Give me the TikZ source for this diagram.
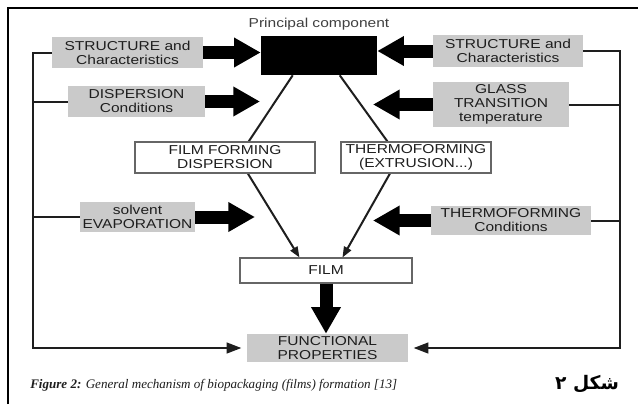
\documentclass[tikz,border=0pt]{standalone}
\usepackage{fontspec}
\setmainfont{Liberation Sans}
\newfontfamily\bx{Liberation Sans}[FakeStretch=1.2]
\newfontfamily\capf{Liberation Serif}
\newfontfamily\arabicfont[Script=Arabic]{DejaVu Sans}
\TeXXeTstate=1
\usetikzlibrary{arrows.meta,calc,backgrounds}
\definecolor{boxgray}{RGB}{202,202,202}
\definecolor{ink}{RGB}{30,30,30}
\tikzset{
  boxtext/.style={font=\bx\fontsize{9.7}{10.5}\selectfont, text=ink, align=center, inner sep=0pt},
  gbox/.style={boxtext, fill=boxgray},
  wbox/.style={boxtext, fill=white, draw=gray!80!black, line width=0.8pt},
  fat/.style={draw=black, line width=9.75pt, -{Triangle[length=20pt,width=21pt]}},
  brk/.style={draw=ink, line width=1.5pt},
  brkarrow/.style={brk, -{Triangle[length=11pt,width=8pt]}, shorten >=4pt},
  diag/.style={draw=ink, line width=1.5pt, -{Triangle[length=8pt,width=6pt]}},
}
\begin{document}
\begin{tikzpicture}[x=0.75pt,y=-0.75pt]
\useasboundingbox (0,0) rectangle (638,404);
\begin{scope}[on background layer]
\fill[white] (0,0) rectangle (638,404);
\end{scope}
% frame
\draw[line width=1.9pt] (8,404) -- (8,8) -- (638,8);

% nodes
\node[boxtext, text=ink!85] (pc) at (319,24) {Principal component};
\node[fill=black, minimum width=87pt, minimum height=29.25pt, inner sep=0pt] (blk) at (319,55.5) {};

\node[gbox, minimum width=113.25pt, minimum height=23.25pt] (sl) at (127.5,52.5) {STRUCTURE and\\Characteristics};
\node[gbox, minimum width=102.75pt, minimum height=23.25pt] (dl) at (136.5,101.5) {DISPERSION\\Conditions};
\node[gbox, minimum width=86.25pt, minimum height=22.5pt] (ev) at (137.5,217) {solvent\\EVAPORATION};

\node[gbox, minimum width=112.5pt, minimum height=24pt] (sr) at (508,51) {STRUCTURE and\\Characteristics};
\node[gbox, minimum width=102pt, minimum height=33.75pt] (gr) at (501,104.5) {GLASS\\TRANSITION\\temperature};
\node[gbox, minimum width=120pt, minimum height=21.75pt] (tc) at (511,220.5) {THERMOFORMING\\Conditions};

\node[wbox, minimum width=135pt, minimum height=23.25pt] (ffd) at (225,157.5) {FILM FORMING\\DISPERSION};
\node[wbox, minimum width=112.5pt, minimum height=23.25pt] (tex) at (416,157.5) {THERMOFORMING\\(EXTRUSION...)};
\node[wbox, minimum width=129pt, minimum height=18.75pt] (film) at (326,270.5) {FILM};
\node[gbox, minimum width=120.75pt, minimum height=21pt] (fp) at (327.5,348) {FUNCTIONAL\\PROPERTIES};

% targets of fat arrows on the diagonals
\coordinate (t2) at (260,101.5);
\coordinate (t4) at (373,104.5);
\coordinate (t5) at (255,217);
\coordinate (t6) at (373,220.5);
\coordinate (lx) at (33,0);
\coordinate (rx) at (620,0);

% fat arrows
\draw[fat] (sl.east) -- (sl.east -| blk.west);
\draw[fat] (dl.east) -- (t2);
\draw[fat] (sr.west) -- (sr.west -| blk.east);
\draw[fat] (gr.west) -- (t4);
\draw[fat] (ev.east) -- (t5);
\draw[fat] (tc.west) -- (t6);
\draw[fat] (film.south) -- (film.south |- fp.north);

% brackets
\draw[brkarrow] (sl.west) -- (sl.west -| lx) |- (fp.west);
\draw[brk] (dl.west) -- (dl.west -| lx);
\draw[brk] (ev.west) -- (ev.west -| lx);
\draw[brkarrow] (sr.east) -- (sr.east -| rx) |- (fp.east);
\draw[brk] (gr.east) -- (gr.east -| rx);
\draw[brk] (tc.east) -- (tc.east -| rx);

% diagonals behind boxes
\begin{scope}[on background layer]
\draw[diag] ($(blk.south west)+(32,0)$) -- ($(ffd.center)+(13,0)$) -- ($(film.north west)+(60,0)$);
\draw[diag] ($(blk.south west)+(79,0)$) -- ($(tex.center)+(-17,0)$) -- ($(film.north west)+(103,0)$);
\end{scope}

% caption
\node[anchor=west, inner sep=0pt, text=ink, font=\capf\itshape\fontsize{9.8}{11}\selectfont] (cap) at (30,385)
  {\textbf{Figure 2:} General mechanism of biopackaging (films) formation [13]};
\node[inner sep=0pt, font=\arabicfont\bfseries\fontsize{14}{17}\selectfont] (fig) at (587,384) {\beginR شکل ۲\endR};
\end{tikzpicture}
\end{document}
